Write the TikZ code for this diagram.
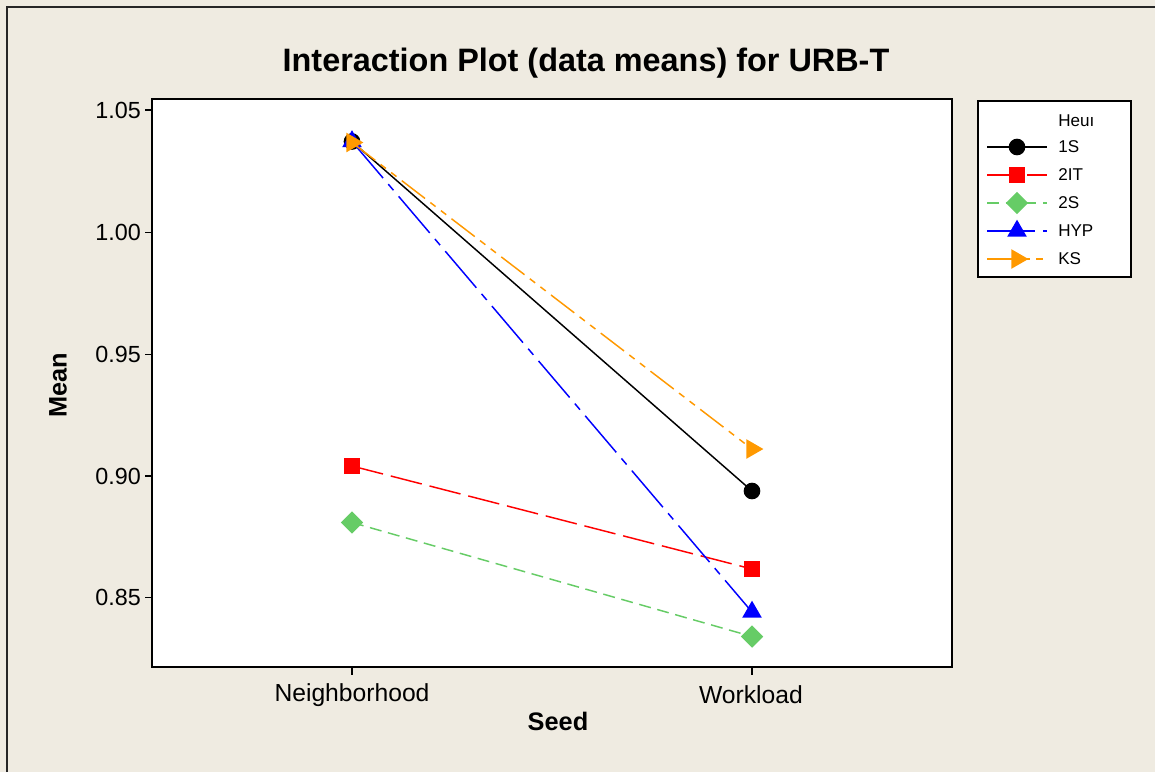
\documentclass[tikz,border=0pt]{standalone}
\usepackage{fontspec}
\setmainfont{Liberation Sans}
\usetikzlibrary{shapes.geometric}
\definecolor{bg}{RGB}{239,235,225}
\definecolor{mgreen}{RGB}{102,204,102}
\definecolor{morange}{RGB}{255,153,0}
\definecolor{mred}{RGB}{255,0,0}
\definecolor{mblue}{RGB}{0,0,255}
\tikzset{
  ticklab/.style={anchor=east, inner sep=0pt, font=\fontsize{17.5}{20}\selectfont},
  catlab/.style={anchor=center, inner sep=0pt, font=\fontsize{18.5}{21}\selectfont},
  axlab/.style={anchor=center, inner sep=0pt, font=\fontsize{19}{22}\selectfont\bfseries},
  leglab/.style={anchor=west, inner sep=0pt, font=\fontsize{12.8}{15}\selectfont},
  s1/.style={black, line width=1.1pt},
  s2/.style={mred, line width=1.1pt, dash pattern=on 24pt off 6pt},
  s3/.style={mgreen, line width=1.1pt, dash pattern=on 9pt off 5pt},
  s4/.style={mblue, line width=1.1pt, dash pattern=on 36pt off 6pt on 6pt off 6pt},
  s5/.style={morange, line width=1.1pt, dash pattern=on 22pt off 5pt on 5pt off 5pt on 5pt off 5pt},
  mcirc/.style={circle, fill=black, inner sep=0pt, minimum size=12.5pt},
  msq/.style={rectangle, fill=mred, inner sep=0pt, minimum size=12pt},
  mdia/.style={diamond, fill=mgreen, inner sep=0pt, minimum size=17pt},
  mtriup/.style={regular polygon, regular polygon sides=3, fill=mblue, inner sep=0pt, minimum size=17pt},
  mtrir/.style={regular polygon, regular polygon sides=3, shape border rotate=-90, fill=morange, inner sep=0pt, minimum size=17pt},
}
\begin{document}
\begin{tikzpicture}[x=0.75pt,y=-0.75pt]
\useasboundingbox (0,0) rectangle (1155,772);
\fill[bg] (0,0) rectangle (1155,772);
\draw[line width=1.5pt, draw=black!85] (7,772) -- (7,7) -- (1155,7);
% plot area
\fill[white] (152,99) rectangle (952,667);
% title
\node[inner sep=0pt, font=\fontsize{24.3}{28}\selectfont\bfseries] (title) at (586,63) {Interaction Plot (data means) for URB-T};
% y ticks
\foreach \v/\yy in {1.05/110, 1.00/232.5, 0.95/354.5, 0.90/476, 0.85/597.5} {
  \draw[line width=1.4pt] (145,\yy) -- (152,\yy);
  \node[ticklab] at (141,\yy) {\v};
}
% x ticks
\draw[line width=1.4pt] (352,667) -- (352,675);
\draw[line width=1.4pt] (752,667) -- (752,675);
\node[catlab] (nb) at (352,695) {Neighborhood};
\node[catlab] (wl) at (751,695) {Workload};
\node[axlab] (seed) at (558,721) {Seed};
\node[axlab, rotate=90] (mean) at (58,385) {Mean};
% data coordinates
\coordinate (a1) at (352,141.5); \coordinate (b1) at (752,491);
\coordinate (a2) at (352,466);   \coordinate (b2) at (752,569);
\coordinate (a3) at (352,522.5); \coordinate (b3) at (752,636.5);
\coordinate (a4) at (352,141.5); \coordinate (b4) at (752,612);
\coordinate (a5) at (352,142.5); \coordinate (b5) at (752,449);
% series
\draw[s1] (a1) -- (b1);
\node[mcirc] (m1a) at (a1) {}; \node[mcirc] (m1b) at (b1) {};
\draw[s2] (a2) -- (b2);
\node[msq] (m2a) at (a2) {}; \node[msq] (m2b) at (b2) {};
\draw[s3] (a3) -- (b3);
\node[mdia] (m3a) at (a3) {}; \node[mdia] (m3b) at (b3) {};
\draw[s4] (a4) -- (b4);
\node[mtriup] (m4a) at (a4) {}; \node[mtriup] (m4b) at (b4) {};
\draw[s5] (a5) -- (b5);
\node[mtrir] (m5a) at (a5) {}; \node[mtrir] (m5b) at (b5) {};
% frame
\draw[line width=1.8pt] (152,99) rectangle (952,667);
% legend
\draw[line width=1.6pt, fill=white] (978,101) rectangle (1131,277);
\node[leglab] (lt) at (1058,121) {Heuı};
\foreach \s/\m/\yy/\t [count=\i] in {s1/mcirc/147/1S, s2/msq/175/2IT, s3/mdia/203/2S, s4/mtriup/231/HYP, s5/mtrir/259/KS} {
  \coordinate (l\i a) at (987,\yy);
  \coordinate (l\i b) at (1047,\yy);
  \draw[\s] (l\i a) -- (l\i b);
  \node[\m] (lm\i) at (1017,\yy) {};
  \node[leglab] (ll\i) at (1058,\yy) {\t};
}
\end{tikzpicture}
\end{document}
